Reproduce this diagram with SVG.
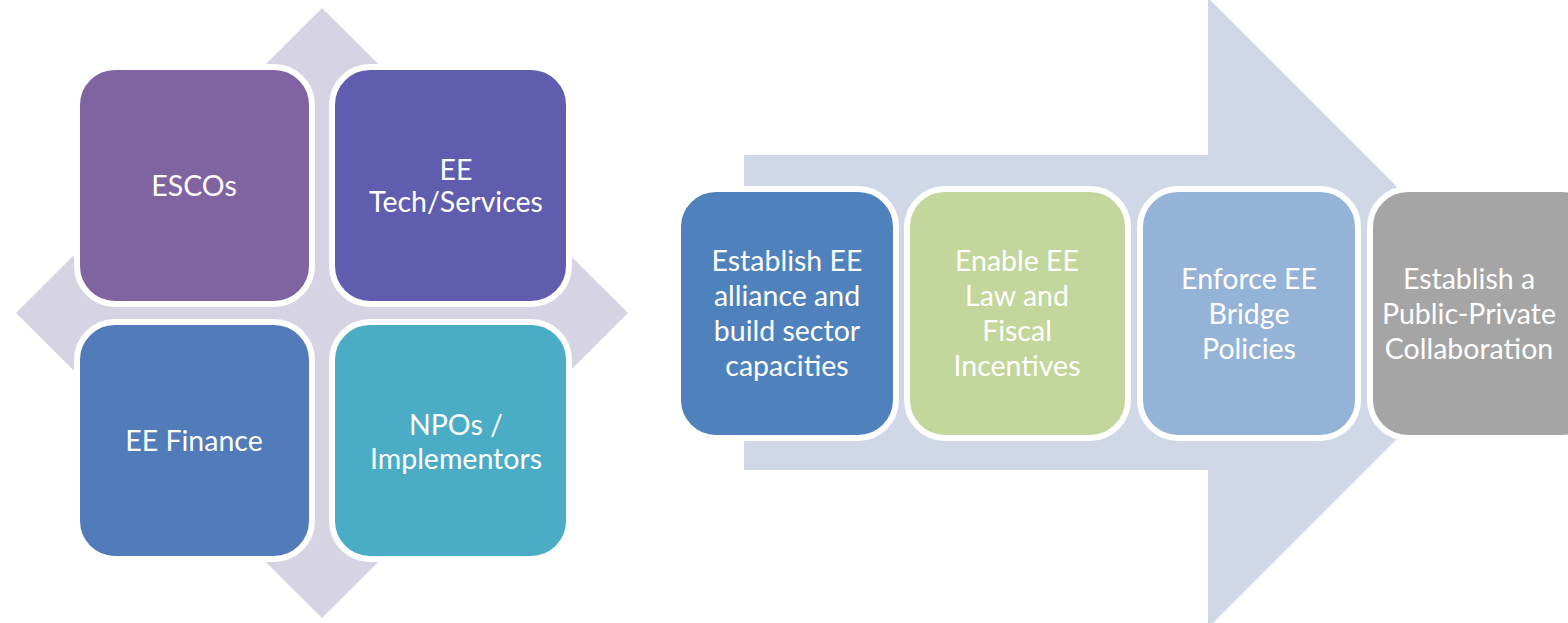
<svg xmlns="http://www.w3.org/2000/svg" width="1568" height="623" viewBox="0 0 1568 623">
<style>
.box{stroke:#fff;stroke-width:6}
.t{font-family:Lato,"Open Sans","Liberation Sans",sans-serif;font-size:28.5px;fill:#fff;text-anchor:middle}
</style>
<rect width="1568" height="623" fill="#fff"/>
<g id="background-shapes">
<polygon points="322,8 628,313 322,618 16,313" fill="#D6D3E3"/>
<polygon points="744,155 1208,155 1208,-2 1523,313 1208,628 1208,470 744,470" fill="#D0D8E8"/>
</g>
<g id="connectors"></g>
<g id="escos"><rect class="box" x="77" y="67" width="235" height="237" rx="38" fill="#8064A2"/><text class="t" x="194" y="196">ESCOs</text></g>
<g id="ee-tech"><rect class="box" x="332" y="67" width="237" height="237" rx="38" fill="#605DAF"/><text class="t" x="456" y="180">EE</text><text class="t" x="456" y="212">Tech/Services</text></g>
<g id="ee-finance"><rect class="box" x="77" y="322" width="235" height="237" rx="38" fill="#527BBA"/><text class="t" x="194" y="451">EE Finance</text></g>
<g id="npos"><rect class="box" x="332" y="322" width="237" height="237" rx="38" fill="#4BACC6"/><text class="t" x="456" y="435">NPOs /</text><text class="t" x="456" y="469">Implementors</text></g>
<g id="step1"><rect class="box" x="678" y="189" width="218" height="249" rx="38" fill="#4F81BD"/><text class="t" x="787" y="271">Establish EE</text><text class="t" x="787" y="306">alliance and</text><text class="t" x="787" y="341">build sector</text><text class="t" x="787" y="376">capacities</text></g>
<g id="step2"><rect class="box" x="907" y="189" width="221" height="249" rx="38" fill="#C3D69B"/><text class="t" x="1017" y="271">Enable EE</text><text class="t" x="1017" y="306">Law and</text><text class="t" x="1017" y="341">Fiscal</text><text class="t" x="1017" y="376">Incentives</text></g>
<g id="step3"><rect class="box" x="1140" y="189" width="218" height="249" rx="38" fill="#95B3D7"/><text class="t" x="1249" y="289">Enforce EE</text><text class="t" x="1249" y="324">Bridge</text><text class="t" x="1249" y="359">Policies</text></g>
<g id="step4"><rect class="box" x="1370" y="189" width="230" height="249" rx="38" fill="#A5A5A5"/><text class="t" x="1469" y="289">Establish a</text><text class="t" x="1469" y="324">Public-Private</text><text class="t" x="1469" y="359">Collaboration</text></g>
</svg>
